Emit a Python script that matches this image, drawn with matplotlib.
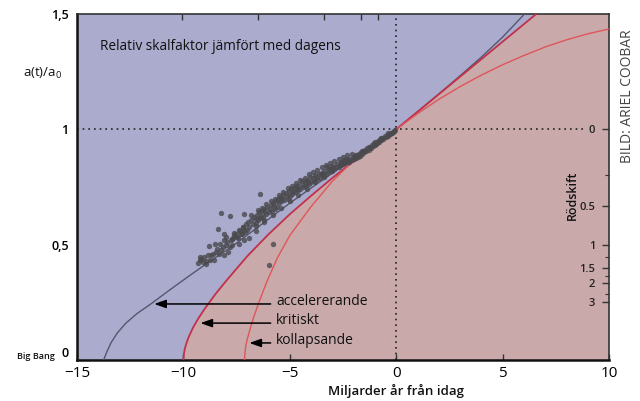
import numpy as np
import matplotlib
matplotlib.use("Agg")
from matplotlib import pyplot as plt

plt.rcParams["font.family"] = ["Open Sans", "DejaVu Sans"]
plt.rcParams["mathtext.fontset"] = "custom"
plt.rcParams["mathtext.rm"] = "Open Sans"
plt.rcParams["mathtext.it"] = "Open Sans"

###* DATA
# accelererande (grå)
acc_t = [-13.75, -13.6, -13.4, -13.1, -12.7, -12.2, -11.5, -10.7, -9.8, -8.8, -7.6, -6.3, -5.0, -3.7, -2.4, -1.2, 0,
         1, 2, 3, 4, 5, 6, 6.2]
acc_a = [0, 0.035, 0.075, 0.118, 0.16, 0.2, 0.245, 0.3, 0.36, 0.425, 0.50, 0.59, 0.68, 0.765, 0.848, 0.922, 1.0,
         1.076, 1.153, 1.232, 1.313, 1.40, 1.497, 1.52]
# kritiskt
crit_t = [-10.0, -9.98, -9.93, -9.85, -9.75, -9.55, -9.3, -9.0, -8.5, -8.0, -7.0, -6.0, -5.0, -4.0, -3.0, -2.0, -1.0, 0,
          1, 2, 3, 4, 5, 6, 7]
crit_a = [0, 0.025, 0.05, 0.075, 0.1, 0.14, 0.18, 0.222, 0.285, 0.342, 0.45, 0.545, 0.632, 0.712, 0.789, 0.862, 0.932, 1.0,
          1.076, 1.152, 1.228, 1.304, 1.38, 1.456, 1.532]
# kollapsande
koll_t = [-7.13, -7.11, -7.07, -7.0, -6.88, -6.7, -6.45, -6.1, -5.6, -5.0, -4.0, -3.0, -2.0, -1.0, 0,
          1, 2, 3, 4, 5, 6, 7, 8, 9, 10]
koll_a = [0, 0.03, 0.06, 0.09, 0.13, 0.185, 0.25, 0.335, 0.44, 0.54, 0.665, 0.775, 0.865, 0.935, 1.0,
          1.068, 1.13, 1.185, 1.235, 1.28, 1.32, 1.357, 1.388, 1.414, 1.435]

# supernovor
sn_t = [-0.05, -0.1, -0.15, -0.2, -0.25, -0.3, -0.35, -0.4, -0.45, -0.5, -0.55, -0.6, -0.65, -0.7, -0.75, -0.8,
        -0.85, -0.9, -0.95, -1.0, -1.05, -1.1, -1.15, -1.2, -1.25, -1.3, -1.35, -1.4, -1.45, -1.5, -1.55, -1.6,
        -1.65, -1.7, -1.75, -1.8, -1.85, -1.9, -1.95, -2.0, -2.05, -2.1, -2.2, -2.25, -2.3, -2.4, -2.45, -2.5,
        -2.6, -2.65, -2.7, -2.8, -2.85, -2.9, -3.0, -3.05, -3.1, -3.2, -3.25, -3.3, -3.4, -3.45, -3.5, -3.6,
        -3.65, -3.7, -3.8, -3.85, -3.9, -4.0, -4.05, -4.1, -4.2, -4.25, -4.3, -4.4, -4.45, -4.5, -4.55, -4.6,
        -4.7, -4.75, -4.8, -4.9, -4.95, -5.0, -5.05, -5.1, -5.2, -5.25, -5.3, -5.4, -5.45, -5.5, -5.55, -5.6,
        -5.65, -5.7, -5.8, -5.85, -5.9, -6.0, -6.05, -6.1, -6.2, -6.25, -6.3, -6.4, -6.45, -6.5, -6.55, -6.6,
        -6.7, -6.75, -6.8, -6.9, -6.95, -7.0, -7.05, -7.1, -7.2, -7.3, -7.4, -7.5, -7.6, -7.7,
        -6.42, -8.22, -7.83, -7.13, -8.38, -8.82, -8.30, -5.79, -5.98,
        -9.24, -9.08, -8.93, -9.16, -8.77, -8.54, -9.01, -8.69, -8.46, -8.07, -8.22, -7.99, -7.83, -7.67,
        -7.52, -7.20, -7.91, -8.07, -7.13, -6.9, -6.6, -6.2,
        -6.8, -6.5, -6.3, -6.1, -5.9, -5.7, -5.5, -5.3, -5.1, -4.9, -4.7, -4.5, -4.3, -4.1, -3.9, -3.7,
        -3.5, -3.3, -3.1, -2.9, -2.7, -2.5, -2.3, -2.1,
        -6.6, -6.2, -5.8, -5.4, -5.0, -4.6, -4.2, -3.8, -3.4, -3.0, -2.6, -2.2,
        -6.6, -6.35, -6.15, -5.95, -5.75, -5.35, -5.15, -4.85, -4.65, -4.35, -4.15, -3.75, -3.55, -3.15,
        -2.95, -2.55, -2.35, -1.9, -1.6, -1.3, -1.0, -0.7, -0.4,
        -9.3, -9.2, -8.95, -8.85, -8.6, -8.4, -8.35, -8.15, -8.0, -7.95, -7.75, -7.6, -7.45, -7.35, -7.25,
        -7.15, -8.5, -8.1, -7.7, -7.4]
sn_a = [0.995, 0.992, 0.99, 0.985, 0.985, 0.978, 0.98, 0.972, 0.975, 0.965, 0.97, 0.96, 0.962, 0.952, 0.958, 0.945,
        0.95, 0.942, 0.938, 0.932, 0.94, 0.928, 0.93, 0.92, 0.925, 0.912, 0.92, 0.905, 0.912, 0.9, 0.905, 0.893,
        0.9, 0.885, 0.895, 0.88, 0.888, 0.875, 0.885, 0.87, 0.878, 0.868, 0.87, 0.86, 0.872, 0.855, 0.865, 0.848,
        0.86, 0.845, 0.838, 0.85, 0.835, 0.828, 0.84, 0.82, 0.83, 0.815, 0.835, 0.808, 0.82, 0.8, 0.812, 0.79,
        0.805, 0.785, 0.8, 0.778, 0.79, 0.77, 0.795, 0.765, 0.78, 0.755, 0.77, 0.75, 0.775, 0.742, 0.76, 0.735,
        0.755, 0.728, 0.745, 0.72, 0.74, 0.712, 0.732, 0.7, 0.725, 0.695, 0.715, 0.688, 0.705, 0.68, 0.7, 0.665,
        0.69, 0.655, 0.68, 0.648, 0.67, 0.64, 0.665, 0.632, 0.655, 0.622, 0.645, 0.615, 0.64, 0.605, 0.63, 0.595,
        0.62, 0.588, 0.605, 0.575, 0.598, 0.565, 0.59, 0.555, 0.578, 0.545, 0.565, 0.535, 0.552, 0.525,
        0.721, 0.639, 0.625, 0.631, 0.566, 0.495, 0.505, 0.505, 0.414,
        0.433, 0.426, 0.418, 0.440, 0.433, 0.433, 0.447, 0.455, 0.469, 0.519, 0.476, 0.534, 0.491, 0.527,
        0.548, 0.577, 0.469, 0.455, 0.52, 0.53, 0.56, 0.6,
        0.63, 0.65, 0.66, 0.675, 0.69, 0.70, 0.715, 0.73, 0.745, 0.755, 0.768, 0.78, 0.79, 0.805, 0.815, 0.825,
        0.835, 0.845, 0.855, 0.862, 0.872, 0.88, 0.888, 0.895,
        0.58, 0.605, 0.63, 0.66, 0.69, 0.715, 0.742, 0.77, 0.795, 0.82, 0.845, 0.86,
        0.61, 0.625, 0.64, 0.655, 0.668, 0.7, 0.712, 0.73, 0.742, 0.76, 0.77, 0.795, 0.805, 0.83,
        0.835, 0.857, 0.865, 0.89, 0.905, 0.925, 0.945, 0.962, 0.982,
        0.42, 0.445, 0.43, 0.455, 0.46, 0.48, 0.46, 0.49, 0.5, 0.51, 0.52, 0.54, 0.53, 0.56, 0.545,
        0.565, 0.505, 0.545, 0.5, 0.505]

# rödskift på höger axel
z_major = [0, 0.5, 1, 1.5, 2, 3]
z_labels = ["0", "0.5", "1", "1.5", "2", "3"]
z_minor = [0.25, 1.25, 1.75, 2.5]

x_ticks = [-15, -10, -5, 0, 5, 10]
y_ticks = [0, 0.5, 1, 1.5]
y_labels = ["0", "0,5", "1", "1,5"]
top_ticks = [-10.05, -6.5, -3.4, -1.65, -0.85]

C_BLUE = "#aaabcd"
C_PINK = "#c9a9a9"

###* FIGURE
fig = plt.figure(figsize=(6.4, 4.01), dpi=100)
ax = fig.add_axes([0.1203, 0.1022, 0.8313, 0.8629])
ax.set_facecolor(C_BLUE)
ax.set_xlim(-15, 10)
ax.set_ylim(0, 1.5)

#* rosa område till höger om kritiska kurvan
ax.fill(crit_t + [10, 10], crit_a + [crit_a[-1], 0], color=C_PINK, lw=0, zorder=1)

#* kurvor
ax.plot(acc_t, acc_a, color="#55576e", lw=1.0, zorder=3)
ax.plot(crit_t, crit_a, color="#c2304a", lw=1.3, zorder=3)
ax.plot(koll_t, koll_a, color="#e0555a", lw=1.0, zorder=3)
ax.scatter(sn_t, sn_a, s=15, color="#4a4a4e", alpha=0.8, lw=0, zorder=4)

#* prickade linjer
ax.plot([-15, 8.9], [1, 1], color="#222222", lw=1.2, ls=(0, (1, 2.4)), zorder=2)
ax.plot([0, 0], [0, 1.5], color="#222222", lw=1.2, ls=(0, (1, 2.4)), zorder=2)

#* pilar
arrows = [("accelererande", -11.37, 0.243), ("kritiskt", -9.2, 0.160), ("kollapsande", -6.9, 0.074)]
for txt, xh, yh in arrows:
    ax.annotate("", xy=(xh, yh), xytext=(-5.9, yh),
                arrowprops=dict(arrowstyle="-|>,head_length=0.7,head_width=0.25", color="black", lw=1.1,
                                shrinkA=0, shrinkB=0), zorder=5)
    ax.text(-5.65, yh + 0.012, txt, fontsize=10, va="center", ha="left", color="#111111", zorder=5)

ax.text(0.043, 0.905, "Relativ skalfaktor jämfört med dagens", transform=ax.transAxes,
        fontsize=9.8, va="center", ha="left", color="#111111")

#* axlar
ax.set_xticks(x_ticks)
ax.set_xticklabels(["\u2212" + str(-v) if v < 0 else str(v) for v in x_ticks], fontsize=11)
ax.set_yticks(y_ticks)
ax.set_yticklabels(y_labels, fontsize=9, weight="semibold")
ax.tick_params(axis="x", direction="in", length=4, width=1, pad=4, color="#333333")
ax.tick_params(axis="y", length=0, pad=6)
ax.xaxis.set_ticks_position("bottom")
ax.get_yticklabels()[0].set_va("bottom")

for side in ["left", "bottom"]:
    ax.spines[side].set_linewidth(1.8)
    ax.spines[side].set_color("#111111")
for side in ["top", "right"]:
    ax.spines[side].set_linewidth(1.2)
    ax.spines[side].set_color("#333333")

# toppens tickmarkeringar
axt = ax.twiny()
axt.set_xlim(-15, 10)
axt.set_xticks(top_ticks)
axt.set_xticklabels([])
axt.tick_params(axis="x", direction="in", length=4, width=1, color="#333333")

# rödskift
ax2 = ax.twinx()
ax2.set_ylim(0, 1.5)
ax2.set_yticks([1 / (1 + z) for z in z_major])
ax2.set_yticklabels(z_labels, fontsize=8, weight="semibold", ha="right", color="#222222")
ax2.set_yticks([1 / (1 + z) for z in z_minor], minor=True)
ax2.tick_params(axis="y", which="major", direction="in", length=5, width=1, pad=-10, color="#333333")
ax2.tick_params(axis="y", which="minor", direction="in", length=3, width=0.8, color="#333333")
for s in ax2.spines.values():
    s.set_visible(False)
for s in axt.spines.values():
    s.set_visible(False)

fig.text(0.619, 0.024, "Miljarder år från idag", fontsize=9.5, weight="semibold", ha="center", va="center",
         color="#111111")
fig.text(0.894, 0.514, "Rödskift", rotation=90, fontsize=9, weight="semibold", ha="center", va="center",
         color="#111111")
fig.text(0.066, 0.818, "a(t)/a$_0$", fontsize=9.5, ha="center", va="center", color="#111111")
fig.text(0.086, 0.11, "Big Bang", fontsize=6.5, weight="semibold", ha="right", va="center", color="#111111")
fig.text(0.981, 0.76, "BILD: ARIEL COOBAR", rotation=90, fontsize=10, ha="center", va="center",
         color="#444444")

fig.savefig("out.png", dpi=100)
